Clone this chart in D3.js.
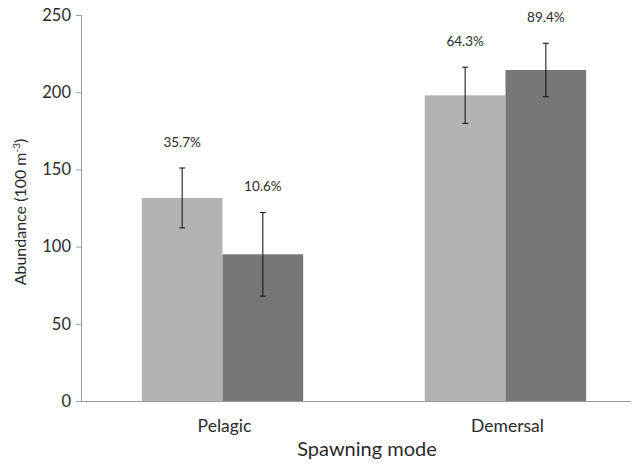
<!DOCTYPE html>
<html>
<head>
<meta charset="utf-8">
<script src="https://cdn.jsdelivr.net/npm/d3@7"></script>
<style>
  html, body { margin: 0; padding: 0; background: #fff; }
  svg { display: block; }
  text { font-family: Lato, "Open Sans", sans-serif; fill: #2b2b2b; }
</style>
</head>
<body>
<svg id="chart" width="640" height="464"></svg>
<script>
// Spawning modes on the x axis
const categories = ["Pelagic", "Demersal"];
// Two series per spawning mode (light and dark bars)
const seriesNames = ["light", "dark"];
const lightValues = [131.5, 198.0];
const darkValues = [95.0, 214.4];
const lightErrors = [19.4, 18.2];
const darkErrors = [27.1, 17.3];
const lightLabels = ["35.7%", "64.3%"];
const darkLabels = ["10.6%", "89.4%"];
const yTicks = [0, 50, 100, 150, 200, 250];

const series = [
  { name: "light", values: lightValues, errors: lightErrors, labels: lightLabels, color: "#b2b3b7" },
  { name: "dark", values: darkValues, errors: darkErrors, labels: darkLabels, color: "#76777b" }
];

const svg = d3.select("#chart");
const plotLeft = 81, plotRight = 631, plotTop = 15, plotBottom = 401;

const y = d3.scaleLinear().domain([0, 250]).range([plotBottom, plotTop]);
const x0 = d3.scaleBand().domain(categories).range([plotLeft, 647])
  .paddingInner(0.43).paddingOuter(0.215);
const x1 = d3.scaleBand().domain(seriesNames).range([0, x0.bandwidth()]);

// Y axis
const yAxis = svg.append("g").attr("transform", `translate(${plotLeft},0)`)
  .call(d3.axisLeft(y).tickValues(yTicks).tickSize(5).tickPadding(5));
yAxis.select(".domain").attr("stroke", "#9a9a9a");
yAxis.selectAll(".tick line").attr("stroke", "#9a9a9a");
yAxis.selectAll(".tick text").attr("font-size", 16.5).attr("fill", "#2b2b2b")
  .style("font-family", "Lato, sans-serif");

// Bars
const groups = svg.append("g").selectAll("g").data(categories).join("g")
  .attr("transform", d => `translate(${x0(d)},0)`);

series.forEach(s => {
  groups.append("rect")
    .attr("x", () => x1(s.name))
    .attr("y", (d, i) => y(s.values[i]))
    .attr("width", x1.bandwidth())
    .attr("height", (d, i) => plotBottom - y(s.values[i]))
    .attr("fill", s.color);
});

// Error bars and percentage labels
series.forEach(s => {
  const cx = () => x1(s.name) + x1.bandwidth() / 2;
  const eb = groups.append("g").attr("stroke", "#1a1a1a").attr("stroke-width", 1.1);
  eb.append("line")
    .attr("x1", cx).attr("x2", cx)
    .attr("y1", (d, i) => y(s.values[i] + s.errors[i]))
    .attr("y2", (d, i) => y(s.values[i] - s.errors[i]));
  [1, -1].forEach(sign => {
    eb.append("line")
      .attr("x1", () => cx() - 3).attr("x2", () => cx() + 3)
      .attr("y1", (d, i) => y(s.values[i] + sign * s.errors[i]))
      .attr("y2", (d, i) => y(s.values[i] + sign * s.errors[i]));
  });
  groups.append("text")
    .attr("x", cx)
    .attr("y", (d, i) => y(s.values[i] + s.errors[i]) - 21)
    .attr("text-anchor", "middle")
    .attr("font-size", 13.5)
    .text((d, i) => s.labels[i]);
});

// X axis line
svg.append("line")
  .attr("x1", plotLeft).attr("x2", plotRight)
  .attr("y1", plotBottom + 0.5).attr("y2", plotBottom + 0.5)
  .attr("stroke", "#9a9a9a");

// Category labels
svg.append("g").selectAll("text").data(categories).join("text")
  .attr("x", d => x0(d) + x0.bandwidth() / 2 + 2)
  .attr("y", 432)
  .attr("text-anchor", "middle")
  .attr("font-size", 17.5)
  .text(d => d);

// Axis titles
svg.append("text")
  .attr("x", 367).attr("y", 456)
  .attr("text-anchor", "middle")
  .attr("font-size", 20)
  .text("Spawning mode");

const yt = svg.append("text")
  .attr("transform", "translate(26,212) rotate(-90)")
  .attr("text-anchor", "middle")
  .attr("font-size", 16);
yt.append("tspan").text("Abundance (100 m");
yt.append("tspan").attr("font-size", 10).attr("dy", -6).text("-3");
yt.append("tspan").attr("dy", 6).text(")");
</script>
</body>
</html>
